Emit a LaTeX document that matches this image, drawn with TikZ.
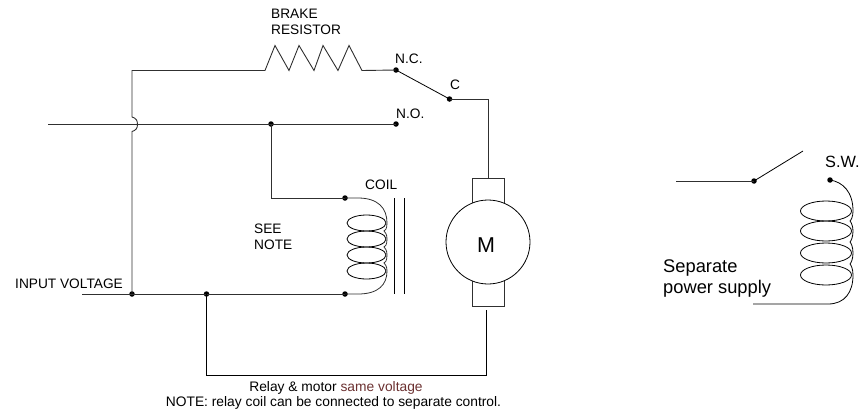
\documentclass[tikz,border=0pt]{standalone}
\usepackage{fontspec}
\setmainfont{Liberation Sans}
\definecolor{notered}{HTML}{6B3030}
\definecolor{wiregray}{HTML}{303030}
\tikzset{
  wire/.style={draw=wiregray,line width=0.9pt,line join=miter},
  dotnode/.style={circle,fill=black,inner sep=0pt,minimum size=5.5pt},
  lab/.style={inner sep=0pt,font=\fontsize{13.7}{15}\selectfont,anchor=base west,text=black},
  biglab/.style={inner sep=0pt,font=\fontsize{18.3}{20}\selectfont,anchor=base west,text=black},
  notelab/.style={inner sep=0pt,font=\fontsize{13.8}{15}\selectfont,anchor=base,text=black},
}
\begin{document}
\begin{tikzpicture}[x=1pt,y=-1pt]
\useasboundingbox (0,0) rectangle (861,410);
% junctions and terminals
\node[dotnode] (nc) at (396,70) {};
\node[dotnode] (c) at (449.5,99) {};
\node[dotnode] (no) at (396,124) {};
\node[dotnode] (j1) at (271,124) {};
\node[dotnode] (ct) at (345,198) {};
\node[dotnode] (cb) at (345,294) {};
\node[dotnode] (j2) at (132,294) {};
\node[dotnode] (j3) at (206.5,294) {};
\node[dotnode] (sw1) at (754,181) {};
\node[dotnode] (sw2) at (830,180) {};
\coordinate (inl) at (48,124);
\coordinate (botl) at (82,294);
\coordinate (jt) at (132,117);
\coordinate (jb) at (132,131.5);
\coordinate (tl) at (132,70.5);
\coordinate (rl) at (265,70.5);
\coordinate (rr) at (362,70.5);
\coordinate (swtip) at (803,151);
\coordinate (swin) at (676,181);
\coordinate (sepend) at (753,304);
% motor
\node[draw=wiregray,line width=0.9pt,minimum width=32pt,minimum height=128pt,inner sep=0pt] (brush) at (488,242) {};
\node[circle,draw=black,fill=white,line width=0.8pt,minimum size=84pt,inner sep=0pt] (m) at (488,242) {};
\node[inner sep=0pt,anchor=base,font=\fontsize{21.5}{23}\selectfont] (mlabel) at (486,252) {M};
\coordinate (mb) at (486,310);
% wires
\draw[wire] (inl) -- (no.center);
\draw[wire] (j2.center) -- (jb) .. controls (136,130.5) and (137.5,128) .. (137.5,124.3) .. controls (137.5,120.5) and (136,118) .. (jt) -- (tl) -- (rl)
  -- (275,45.5) -- (289,70.5) -- (299,45.5) -- (314,70.5) -- (323,45.5) -- (338,70.5) -- (349,45.5) -- (rr) -- (nc.center);
\draw[draw=black,line width=0.8pt] (nc.center) -- (c.center);
\draw[wire] (c.center) -| (brush.north);
\draw[wire] (j1.center) |- (ct.center);
\draw[wire] (botl) -- (cb.center);
\draw[draw=black,line width=0.9pt] (j3.center) |- (486,375) -- (mb);
% coil
\draw[wire,line width=0.8pt] (ct.center) -- (358,198) .. controls (378,198) and (387,208) .. (387,223)
  .. controls (387,229) and (385,231) .. (384,231) .. controls (385,232) and (387,234) .. (387,239)
  .. controls (387,245) and (385,247) .. (384,247) .. controls (385,248) and (387,250) .. (387,255)
  .. controls (387,261) and (385,263) .. (384,263) .. controls (385,264) and (387,266) .. (387,271)
  .. controls (387,285) and (378,294) .. (358,294) -- (cb.center);
\foreach \yy in {223,239,255,271} \draw[draw=black,line width=0.8pt] (366.5,\yy) ellipse [x radius=19.5,y radius=8];
\draw[draw=black,line width=0.7pt] (394,198) -- (394,294) (404,198) -- (404,294);
% separate supply
\draw[wire] (swin) -- (sw1.center);
\draw[draw=black,line width=0.8pt] (sw1.center) -- (swtip);
\draw[draw=black,line width=0.8pt] (sw2.center) .. controls (843,182) and (853,192) .. (853,211)
  .. controls (853,217) and (851,220) .. (850,221) .. controls (851,222) and (853,226) .. (853,231)
  .. controls (853,237) and (851,241) .. (850,242) .. controls (851,243) and (853,247) .. (853,253)
  .. controls (853,259) and (851,263) .. (850,264) .. controls (851,265) and (853,269) .. (853,275)
  .. controls (853,292) and (845,304) .. (828,304) -- (sepend);
\foreach \yy in {211,231,253,275} \draw[draw=black,line width=0.8pt] (826,\yy) ellipse [x radius=25.5,y radius=10];
% labels
\node[lab] (t1) at (271,18.5) {BRAKE};
\node[lab] (t2) at (271,34.5) {RESISTOR};
\node[lab] (t3) at (395,63.5) {N.C.};
\node[lab] (t4) at (450,89) {C};
\node[lab] (t5) at (396,118) {N.O.};
\node[lab] (t6) at (365,189) {COIL};
\node[lab] (t7) at (254,233) {SEE};
\node[lab] (t8) at (254,249) {NOTE};
\node[lab] (t9) at (15,288) {INPUT VOLTAGE};
\node[biglab] (t10) at (663,272) {Separate};
\node[biglab] (t11) at (663,293) {power supply};
\node[biglab,font=\fontsize{16.3}{18}\selectfont] (t12) at (825,167) {S.W.};
\node[notelab] (t13) at (336,391) {Relay \& motor \textcolor{notered}{same voltage}};
\node[notelab] (t14) at (333.5,406) {NOTE: relay coil can be connected to separate control.};
\end{tikzpicture}
\end{document}
